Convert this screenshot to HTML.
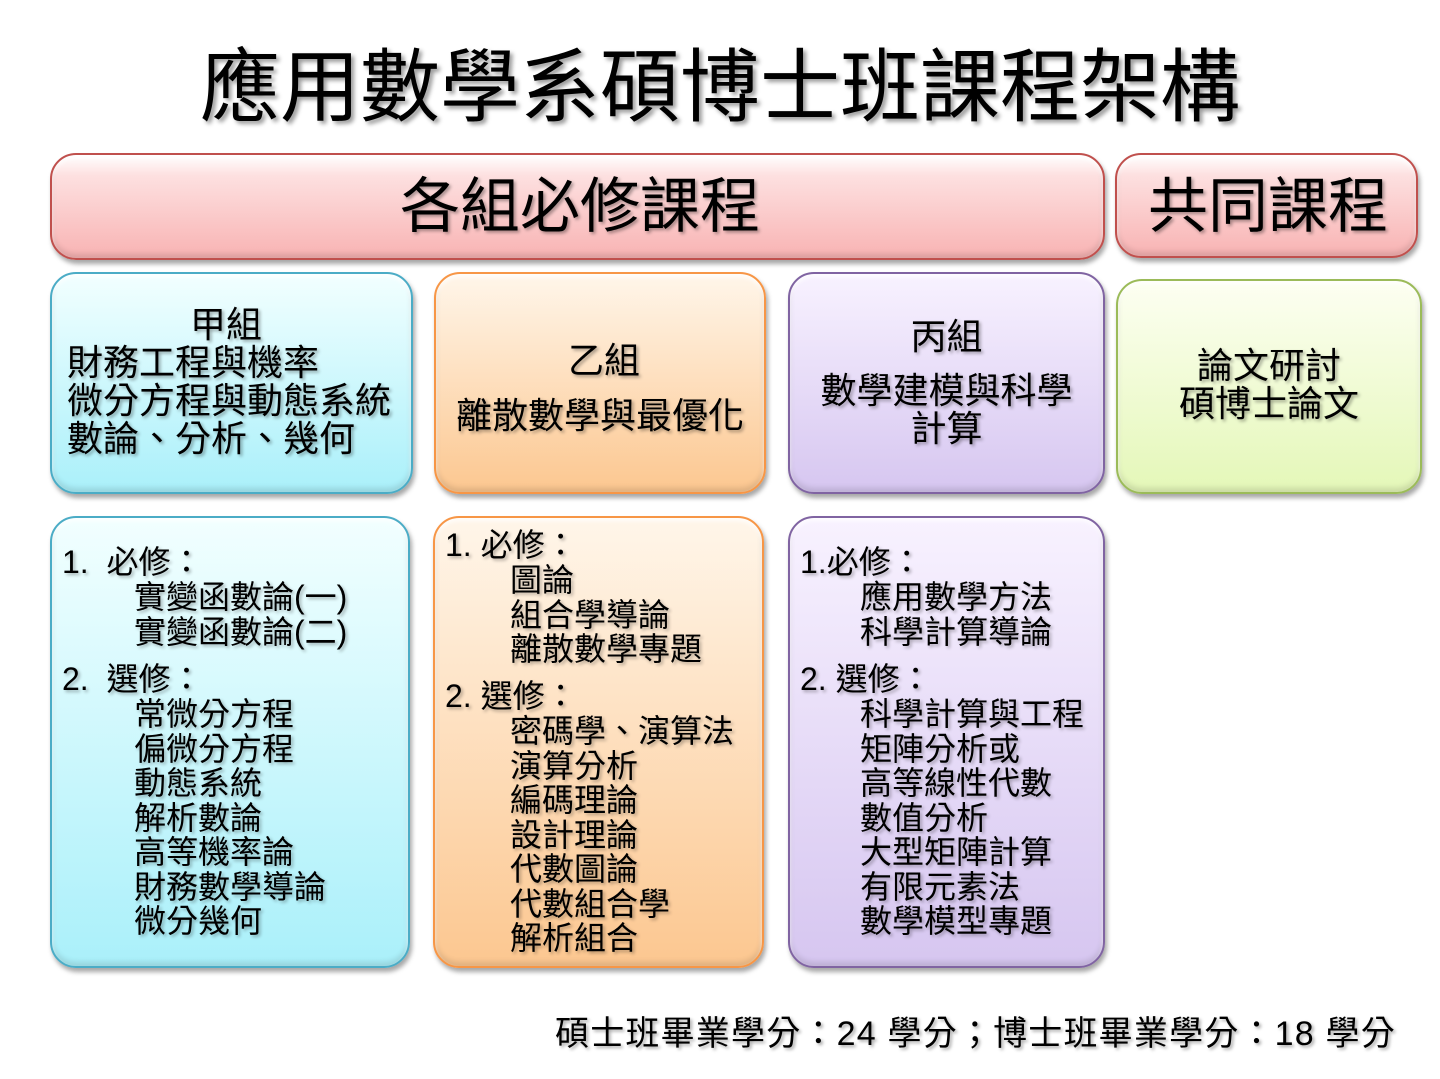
<!DOCTYPE html>
<html><head><meta charset="utf-8"><style>
body{margin:0;width:1440px;height:1079px;background:#fff;position:relative;overflow:hidden;font-family:"Liberation Sans","Noto Sans CJK TC",sans-serif;color:#000}
.b{position:absolute;box-sizing:border-box;border-radius:26px;border:2px solid;box-shadow:2px 4px 5px rgba(0,0,0,.35), inset 0 3px 4px rgba(255,255,255,.8), inset 0 -4px 6px rgba(0,0,0,.12)}
.t{position:absolute;white-space:nowrap;text-shadow:2px 2px 3px rgba(0,0,0,.35)}
.l{position:absolute;white-space:nowrap;font-size:32px;line-height:34.5px;text-shadow:2px 2px 3px rgba(0,0,0,.3)}
.c{text-align:center}
</style></head><body>
<div class="t" style="left:200px;top:40px;font-size:80px;line-height:96px;letter-spacing:0px;text-shadow:3px 3px 4px rgba(0,0,0,.4)">應用數學系碩博士班課程架構</div>

<div class="b" style="left:50px;top:153px;width:1055px;height:107px;border-color:#c0504d;background:linear-gradient(#fff 0%,#fde0e0 20%,#f8b3b3 100%)"></div>
<div class="t" style="left:400px;top:173px;font-size:60px;line-height:68px">各組必修課程</div>
<div class="b" style="left:1115px;top:153px;width:303px;height:105px;border-color:#c0504d;background:linear-gradient(#fff 0%,#fde0e0 20%,#f8b3b3 100%)"></div>
<div class="t" style="left:1148px;top:173px;font-size:60px;line-height:68px">共同課程</div>

<div class="b" style="left:50px;top:272px;width:363px;height:222px;border-color:#4bacc6;background:linear-gradient(#f2ffff,#aaf0fa)"></div>
<div class="t c" style="left:50px;top:306px;width:352px;font-size:36px;line-height:38px">甲組</div>
<div class="t" style="left:67px;top:344px;font-size:36px;line-height:38px">財務工程與機率<br>微分方程與動態系統<br>數論、分析、幾何</div>

<div class="b" style="left:434px;top:272px;width:332px;height:222px;border-color:#f79646;background:linear-gradient(#fff6ea,#fcc790)"></div>
<div class="t c" style="left:434px;top:341px;width:340px;font-size:36px;line-height:40px">乙組</div>
<div class="t c" style="left:434px;top:396px;width:332px;font-size:36px;line-height:40px">離散數學與最優化</div>

<div class="b" style="left:788px;top:272px;width:317px;height:222px;border-color:#8064a2;background:linear-gradient(#f8f2ff,#d6c6f0)"></div>
<div class="t c" style="left:788px;top:318px;width:317px;font-size:36px;line-height:38px">丙組</div>
<div class="t c" style="left:788px;top:372px;width:317px;font-size:36px;line-height:38px">數學建模與科學<br>計算</div>

<div class="b" style="left:1116px;top:279px;width:306px;height:215px;border-color:#9bbb59;background:linear-gradient(#fdfff2,#e4f7b8)"></div>
<div class="t c" style="left:1116px;top:347px;width:306px;font-size:36px;line-height:38px">論文研討<br>碩博士論文</div>

<div class="b" style="left:50px;top:516px;width:360px;height:452px;border-color:#4bacc6;background:linear-gradient(#f2ffff,#aaf0fa)"></div>
<div class="l" style="left:62px;top:545px">1.&nbsp; 必修：</div>
<div class="l" style="left:134px;top:580px">實變函數論(一)<br>實變函數論(二)</div>
<div class="l" style="left:62px;top:662px">2.&nbsp; 選修：</div>
<div class="l" style="left:134px;top:697px">常微分方程<br>偏微分方程<br>動態系統<br>解析數論<br>高等機率論<br>財務數學導論<br>微分幾何</div>

<div class="b" style="left:433px;top:516px;width:331px;height:452px;border-color:#f79646;background:linear-gradient(#fff6ea,#fcc790)"></div>
<div class="l" style="left:445px;top:528px">1. 必修：</div>
<div class="l" style="left:510px;top:563px">圖論<br>組合學導論<br>離散數學專題</div>
<div class="l" style="left:445px;top:679px">2. 選修：</div>
<div class="l" style="left:510px;top:714px">密碼學、演算法<br>演算分析<br>編碼理論<br>設計理論<br>代數圖論<br>代數組合學<br>解析組合</div>

<div class="b" style="left:788px;top:516px;width:317px;height:452px;border-color:#8064a2;background:linear-gradient(#f8f2ff,#d6c6f0)"></div>
<div class="l" style="left:800px;top:545px">1.必修：</div>
<div class="l" style="left:860px;top:580px">應用數學方法<br>科學計算導論</div>
<div class="l" style="left:800px;top:662px">2. 選修：</div>
<div class="l" style="left:860px;top:697px">科學計算與工程<br>矩陣分析或<br>高等線性代數<br>數值分析<br>大型矩陣計算<br>有限元素法<br>數學模型專題</div>

<div class="t" style="left:555px;top:1013px;font-size:34px;line-height:42px;letter-spacing:1.2px">碩士班畢業學分：24 學分；博士班畢業學分：18 學分</div>
</body></html>
